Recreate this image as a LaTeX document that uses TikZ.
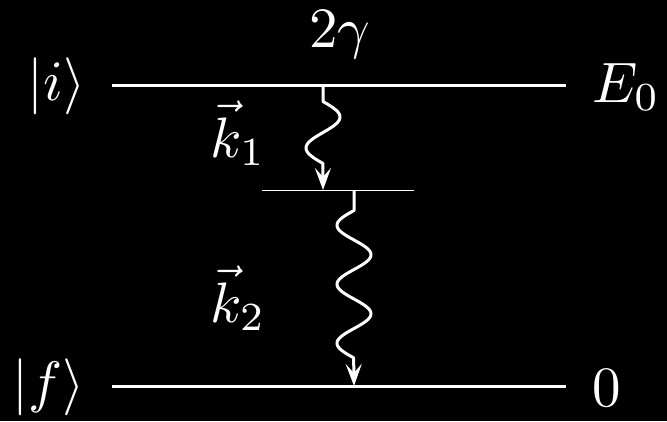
\documentclass[tikz,border=0pt]{standalone}
\usetikzlibrary{arrows.meta}
\begin{document}
\begin{tikzpicture}[x=1pt,y=-1pt,
  lbl/.style={text=white,inner sep=0pt,anchor=base,scale=5.7},
  level/.style={draw=white,line width=3pt},
  thinlevel/.style={draw=white,line width=1pt},
  wave/.style={draw=white,line width=3pt,line join=round,
    -{Stealth[length=22pt,width=16pt,inset=9pt]}}]
\useasboundingbox (0,0) rectangle (667,421);
\fill[black] (0,0) rectangle (667,421);
% levels
\coordinate (iL) at (112,85);
\coordinate (iR) at (566,85);
\coordinate (mL) at (262,190);
\coordinate (mR) at (414,190);
\coordinate (fL) at (112,386);
\coordinate (fR) at (566,386);
\draw[level] (iL) -- (iR);
\draw[thinlevel] (mL) -- (mR);
\draw[level] (fL) -- (fR);
% wave endpoints
\coordinate (w1s) at (323,85);
\coordinate (w1e) at (323,190);
\coordinate (w2s) at (354,190);
\coordinate (w2e) at (354,386);
\draw[wave] (w1s) -- (323,101.5)
  -- plot[domain=0:1,samples=60] ({323+17*sin(360*\x)},{101.5+62*\x})
  -- (w1e);
\draw[wave] (w2s) -- (354,210.5)
  -- plot[domain=0:1,samples=120] ({354-17*sin(900*\x)},{210.5+147.5*\x})
  -- (w2e);
% labels
\node[lbl] (li) at (56.5,100) {$|i\rangle$};
\node[lbl] (lE) at (626,102) {$E_0$};
\node[lbl] (lg) at (340,47) {$2\gamma$};
\node[lbl] (lk1) at (238,157) {$\vec{k}_1$};
\node[lbl] (lk2) at (238,322) {$\vec{k}_2$};
\node[lbl] (lf) at (49,401) {$|f\rangle$};
\node[lbl] (l0) at (607,406) {$0$};
\end{tikzpicture}
\end{document}
